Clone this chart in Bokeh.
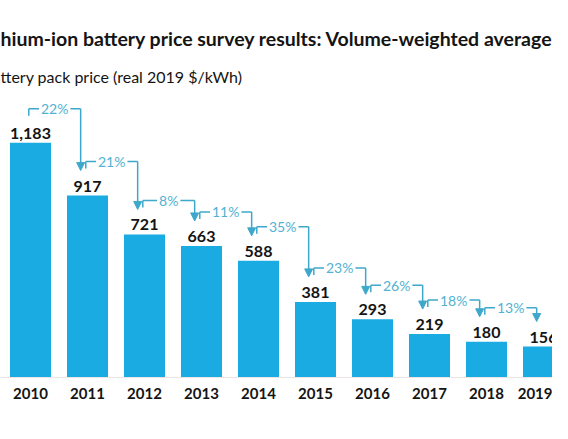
from bokeh.plotting import figure
from bokeh.models import (Range1d, FixedTicker, ColumnDataSource, LabelSet,
                          Arrow, NormalHead)
from bokeh.core.properties import value
from bokeh.embed import file_html
from bokeh.resources import INLINE

# ---- data ----
years = [2010, 2011, 2012, 2013, 2014, 2015, 2016, 2017, 2018, 2019]
prices = [1183, 917, 721, 663, 588, 381, 293, 219, 180, 156]
price_labels = ["1,183", "917", "721", "663", "588", "381", "293", "219", "180", "156"]
drops = ["22%", "21%", "8%", "11%", "35%", "23%", "26%", "18%", "13%"]
year_labels = [str(y) for y in years]
title_text = "hium-ion battery price survey results: Volume-weighted average"
subtitle_text = "ttery pack price (real 2019 $/kWh)"

# ---- style / layout ----
W, H = 552, 423
BORDER_BOTTOM = 46
Y_MAX = 1900
PX = Y_MAX / (H - BORDER_BOTTOM)        # data units per pixel (vertical)
STEP = 57.0                              # pixels per year
X0 = 2010 - 30 / STEP
X_SPAN = W / STEP
BAR_BLUE = "#1aabe3"
ANNO = "#3ea8cb"
ANNO_TXT = "#52b2d3"
DARK = "#141414"

p = figure(width=W, height=H, output_backend="svg", toolbar_location=None,
           x_range=Range1d(X0, X0 + X_SPAN), y_range=Range1d(0, Y_MAX),
           min_border_left=0, min_border_right=0, min_border_top=0,
           min_border_bottom=BORDER_BOTTOM)
p.background_fill_color = "white"
p.border_fill_color = "white"
p.outline_line_color = None
p.grid.visible = False
p.yaxis.visible = False

# x axis with year labels
p.xaxis.ticker = FixedTicker(ticks=years)
p.xaxis.major_label_overrides = {y: s for y, s in zip(years, year_labels)}
p.xaxis.major_tick_line_color = None
p.xaxis.minor_tick_line_color = None
p.xaxis.major_tick_out = 0
p.xaxis.major_tick_in = 0
p.xaxis.axis_line_color = "#ece4e4"
p.xaxis.major_label_standoff = 10
p.xaxis.major_label_text_font = "Lato"
p.xaxis.major_label_text_font_style = "bold"
p.xaxis.major_label_text_font_size = "15px"
p.xaxis.major_label_text_color = DARK

# bars
p.vbar(x=years, top=prices, bottom=0, width=0.72, fill_color=BAR_BLUE,
       line_color=None)

# value labels
p.text(x=years, y=[v + 4 * PX for v in prices], text=price_labels,
       text_align="center", text_baseline="bottom",
       text_font=value("Lato"), text_font_style="bold",
       text_font_size="16px", text_color=DARK)

# percentage-drop brackets
xl = [years[i] - 0.03 for i in range(len(drops))]
xr = [years[i + 1] - 0.12 for i in range(len(drops))]
yb = [prices[i] + 34 * PX for i in range(len(drops))]
yh = [prices[i + 1] + 25 * PX for i in range(len(drops))]
xm = [(a + b) / 2 for a, b in zip(xl, xr)]

p.segment(x0=xl, y0=yb, x1=xr, y1=yb, line_color=ANNO, line_width=1.5)
p.segment(x0=xl, y0=yb, x1=xl, y1=[y - 7 * PX for y in yb],
          line_color=ANNO, line_width=1.5)

arrow_src = ColumnDataSource(dict(x0=xr, y0=yb, x1=xr, y1=yh))
p.add_layout(Arrow(source=arrow_src, x_start="x0", y_start="y0",
                   x_end="x1", y_end="y1", line_color=ANNO, line_width=1.5,
                   end=NormalHead(size=8, fill_color=ANNO, line_color=ANNO)))

pct_src = ColumnDataSource(dict(x=xm, y=yb, t=drops))
p.add_layout(LabelSet(source=pct_src, x="x", y="y", text="t",
                      text_align="center", text_baseline="middle",
                      text_font=value("Lato"), text_font_size=value("14px"),
                      text_color=ANNO_TXT, background_fill_color="white",
                      border_line_color="white", border_line_width=4))

# title and subtitle as text (cropped as in the reference)
p.text(x=[X0], y=[Y_MAX - 38 * PX], text=[title_text],
       text_align="left", text_baseline="middle",
       text_font=value("Lato"), text_font_style="bold",
       text_font_size="19.5px", text_color=DARK)
p.text(x=[X0], y=[Y_MAX - 76 * PX], text=[subtitle_text],
       text_align="left", text_baseline="middle",
       text_font=value("Lato"), text_font_size="16px", text_color=DARK)

open("out.html", "w").write(file_html(p, INLINE))
